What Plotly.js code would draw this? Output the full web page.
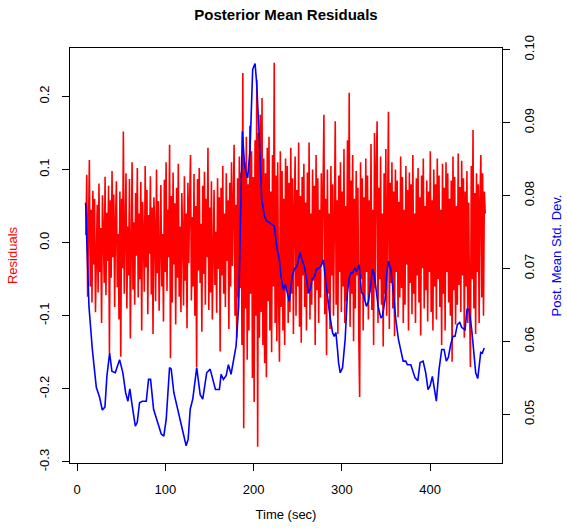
<!DOCTYPE html>
<html>
<head>
<meta charset="utf-8">
<script src="https://cdn.plot.ly/plotly-3.0.1.min.js"></script>
<style>
  html, body { margin: 0; padding: 0; background: #ffffff; }
  #chart { width: 567px; height: 528px; }
</style>
</head>
<body>
<div id="chart"></div>
<script>
// ---- Data ----
const chartTitle = "Posterior Mean Residuals";
const xTitle = "Time (sec)";
const yLeftTitle = "Residuals";
const yRightTitle = "Post. Mean Std. Dev.";

const xTickVals = [0, 100, 200, 300, 400];
const xTickText = ["0", "100", "200", "300", "400"];
const yLeftTickVals = [-0.3, -0.2, -0.1, 0.0, 0.1, 0.2];
const yLeftTickText = ["-0.3", "-0.2", "-0.1", "0.0", "0.1", "0.2"];
const yRightTickVals = [0.05, 0.06, 0.07, 0.08, 0.09, 0.10];
const yRightTickText = ["0.05", "0.06", "0.07", "0.08", "0.09", "0.10"];

// Residuals, evenly sampled from residualStart to residualEnd seconds
const residualStart = 10;
const residualEnd = 462.5;
const residuals = [
  0.010, 0.093, -0.074, 0.088, 0.113, -0.060, 0.045, -0.082, 0.071, -0.030,
  0.060, -0.095, 0.034, 0.052, -0.068, 0.081, -0.040, 0.020, -0.110, 0.065,
  0.015, -0.055, 0.090, -0.072, 0.041, -0.025, 0.078, -0.151, 0.058, -0.048,
  0.098, -0.020, 0.066, -0.088, 0.030, 0.084, -0.061, 0.012, -0.105, 0.070,
  -0.156, 0.060, -0.035, 0.152, -0.070, 0.045, 0.095, -0.090, 0.022, -0.045,
  0.087, -0.131, 0.050, 0.110, -0.064, 0.028, -0.085, 0.068, -0.018, 0.102,
  -0.075, 0.040, -0.050, 0.083, -0.120, 0.056, 0.010, -0.067, 0.105, -0.034,
  0.072, -0.098, 0.038, -0.015, 0.091, -0.071, 0.048, -0.125, 0.062, 0.020,
  -0.080, 0.100, -0.042, 0.057, -0.093, 0.030, 0.079, -0.060, 0.012, -0.108,
  0.086, -0.040, 0.110, -0.066, 0.045, -0.020, 0.134, -0.158, 0.064, -0.082,
  0.096, -0.030, 0.054, -0.112, 0.075, -0.048, 0.108, -0.074, 0.022, -0.095,
  0.068, 0.015, -0.086, 0.091, -0.052, 0.040, -0.117, 0.082, -0.028, 0.058,
  0.120, -0.079, 0.035, -0.060, 0.094, -0.100, 0.050, -0.170, 0.087, -0.038,
  0.102, -0.055, 0.026, -0.122, 0.078, -0.043, 0.097, -0.085, 0.060, -0.020,
  0.130, -0.092, 0.048, -0.068, 0.084, -0.105, 0.030, 0.072, -0.058, 0.015,
  -0.096, 0.088, -0.036, 0.062, -0.149, 0.075, -0.045, 0.105, -0.070, 0.040,
  -0.088, 0.095, -0.025, 0.058, -0.118, 0.082, -0.060, 0.110, -0.032, 0.068,
  0.134, -0.100, 0.052, -0.130, 0.088, -0.075, 0.118, -0.062, 0.096, -0.140,
  0.232, -0.254, 0.110, -0.090, 0.145, -0.160, 0.080, -0.120, 0.160, -0.070,
  0.125, -0.185, 0.090, -0.218, 0.140, -0.100, 0.223, -0.279, 0.150, -0.130,
  0.175, -0.095, 0.198, -0.140, 0.115, -0.165, 0.095, -0.184, 0.130, -0.080,
  0.145, -0.120, 0.070, -0.150, 0.120, -0.060, 0.246, -0.110, 0.092, -0.135,
  0.110, -0.075, -0.163, 0.125, -0.088, 0.098, -0.120, 0.060, -0.140, 0.115,
  -0.065, 0.105, -0.110, 0.082, -0.095, 0.130, -0.070, 0.088, -0.125, 0.050,
  0.118, -0.100, 0.072, -0.060, 0.137, -0.115, 0.064, -0.137, 0.090, -0.045,
  0.108, -0.088, 0.055, -0.120, 0.096, -0.070, 0.137, -0.105, 0.040, -0.085,
  0.100, -0.052, 0.078, -0.140, 0.120, -0.065, 0.088, -0.110, 0.045, -0.075,
  0.095, -0.030, 0.112, 0.175, -0.098, 0.060, -0.154, 0.100, -0.070, 0.040,
  -0.118, 0.105, -0.045, 0.080, -0.100, 0.125, 0.166, -0.085, 0.058, -0.125,
  0.092, -0.040, 0.110, -0.095, 0.070, -0.060, 0.128, -0.110, 0.050, -0.080,
  0.140, -0.060, 0.205, -0.115, 0.085, -0.070, 0.120, -0.135, 0.060, -0.090,
  0.098, -0.045, 0.075, -0.130, -0.211, 0.110, -0.050, 0.088, -0.120, 0.062,
  -0.078, 0.115, -0.040, 0.092, -0.105, 0.058, -0.068, 0.135, -0.092, 0.045,
  -0.140, 0.150, -0.062, 0.102, 0.166, -0.110, 0.075, -0.050, 0.118, -0.085,
  0.040, -0.142, 0.095, -0.070, 0.128, -0.100, 0.060, 0.179, -0.118, 0.082,
  -0.055, 0.110, -0.090, 0.070, -0.128, 0.100, -0.040, 0.085, -0.102, 0.056,
  -0.075, 0.118, -0.062, 0.090, -0.110, 0.045, -0.085, 0.105, -0.030, 0.072,
  -0.120, 0.096, -0.055, 0.080, -0.098, 0.120, -0.070, 0.040, -0.110, 0.088,
  -0.045, 0.102, -0.082, 0.062, -0.127, 0.092, -0.035, 0.115, -0.090, 0.050,
  -0.065, 0.085, -0.108, 0.070, -0.040, 0.125, -0.095, 0.058, -0.120, 0.100,
  -0.060, 0.080, -0.105, 0.115, -0.050, 0.092, -0.088, 0.045, -0.140, 0.108,
  -0.070, 0.075, -0.120, 0.110, -0.040, 0.095, -0.082, 0.060, -0.100, 0.085,
  -0.163, 0.118, -0.065, 0.090, -0.112, 0.050, -0.085, 0.122, -0.058, 0.076,
  -0.095, 0.112, -0.045, 0.088, -0.130, 0.070, -0.060, 0.098, -0.110, 0.055,
  -0.080, -0.170, 0.105, -0.050, 0.154, -0.090, 0.068, -0.125, 0.095, -0.040,
  0.080, -0.110, 0.060, 0.120, -0.075, 0.095, -0.100, 0.070, 0.040
];

// Posterior mean standard deviation (traced)
const sdTime = [
  9.7, 13.5, 17.3, 21.8, 25.6, 28.6, 31.6, 33.8, 36.9, 39.5,
  43.3, 48.2, 51.9, 55.0, 57.6, 59.8, 62.6, 66.0, 68.2, 70.8,
  73.9, 78.4, 81.0, 83.3, 86.7, 91.5, 95.4, 98.3, 101.0, 104.8,
  106.7, 109.6, 114.1, 119.1, 123.6, 125.9, 128.2, 131.1, 135.6, 139.5,
  142.4, 146.9, 150.8, 156.8, 161.3, 163.2, 165.8, 168.9, 171.5, 174.5,
  177.5, 180.2, 183.1, 185.4, 187.3, 189.9, 193.3, 196.0, 199.0, 201.7,
  203.5, 206.6, 209.2, 212.2, 214.8, 217.9, 220.9, 223.5, 226.1, 229.2,
  231.1, 233.7, 236.0, 237.9, 240.5, 243.6, 246.2, 249.2, 252.6, 254.9,
  257.5, 260.1, 262.0, 264.3, 266.2, 268.8, 271.4, 274.4, 276.4, 279.0,
  281.2, 283.8, 286.5, 289.5, 291.4, 293.3, 295.1, 296.3, 298.2, 300.8,
  303.8, 306.4, 308.4, 310.3, 312.1, 314.8, 316.6, 319.7, 322.3, 324.5,
  327.9, 330.2, 332.9, 334.7, 336.7, 338.6, 341.2, 344.2, 346.0, 349.1,
  351.0, 352.8, 355.5, 358.1, 361.2, 364.1, 366.9, 369.5, 372.5, 374.3,
  378.2, 380.8, 383.0, 386.1, 388.7, 392.1, 395.1, 397.7, 400.0, 402.6,
  405.3, 407.1, 410.2, 413.2, 415.8, 418.4, 420.7, 423.4, 426.0, 428.3,
  430.9, 433.6, 435.9, 439.6, 441.9, 444.1, 447.2, 449.8, 451.7, 454.0,
  456.2, 457.4, 459.2, 461.4
];
const sdValue = [
  0.0790, 0.0648, 0.0589, 0.0537, 0.0523, 0.0506, 0.0510, 0.0552, 0.0584, 0.0559,
  0.0557, 0.0575, 0.0557, 0.0530, 0.0518, 0.0535, 0.0511, 0.0484, 0.0489, 0.0516,
  0.0518, 0.0518, 0.0548, 0.0548, 0.0507, 0.0489, 0.0473, 0.0470, 0.0493, 0.0564,
  0.0562, 0.0530, 0.0507, 0.0482, 0.0457, 0.0466, 0.0507, 0.0521, 0.0564, 0.0527,
  0.0521, 0.0557, 0.0562, 0.0534, 0.0534, 0.0555, 0.0548, 0.0553, 0.0568, 0.0555,
  0.0578, 0.0594, 0.0648, 0.0785, 0.0888, 0.0840, 0.0824, 0.0863, 0.0973, 0.0981,
  0.0954, 0.0877, 0.0795, 0.0772, 0.0765, 0.0763, 0.0760, 0.0758, 0.0731, 0.0712,
  0.0689, 0.0671, 0.0678, 0.0667, 0.0655, 0.0689, 0.0699, 0.0703, 0.0722, 0.0712,
  0.0703, 0.0685, 0.0667, 0.0671, 0.0685, 0.0689, 0.0699, 0.0701, 0.0703, 0.0712,
  0.0685, 0.0662, 0.0635, 0.0612, 0.0607, 0.0612, 0.0589, 0.0571, 0.0557, 0.0564,
  0.0603, 0.0667, 0.0687, 0.0694, 0.0694, 0.0701, 0.0696, 0.0705, 0.0667, 0.0664,
  0.0648, 0.0655, 0.0680, 0.0699, 0.0692, 0.0671, 0.0648, 0.0632, 0.0635, 0.0658,
  0.0694, 0.0710, 0.0699, 0.0671, 0.0630, 0.0603, 0.0587, 0.0573, 0.0573, 0.0568,
  0.0568, 0.0559, 0.0550, 0.0546, 0.0571, 0.0573, 0.0557, 0.0534, 0.0539, 0.0552,
  0.0532, 0.0518, 0.0562, 0.0589, 0.0589, 0.0573, 0.0578, 0.0596, 0.0607, 0.0607,
  0.0623, 0.0626, 0.0619, 0.0616, 0.0644, 0.0644, 0.0616, 0.0580, 0.0557, 0.0549,
  0.0575, 0.0585, 0.0584, 0.0591
];

const residualTime = residuals.map((_, i) =>
  residualStart + i * (residualEnd - residualStart) / (residuals.length - 1));

const FONT = "Liberation Sans, Arial, Helvetica, sans-serif";

const traces = [
  {
    x: residualTime, y: residuals, type: "scatter", mode: "lines",
    line: { color: "#ff0000", width: 1.6 }, xaxis: "x", yaxis: "y",
    hoverinfo: "skip", showlegend: false
  },
  {
    x: sdTime, y: sdValue, type: "scatter", mode: "lines",
    line: { color: "#0000ff", width: 1.6, shape: "linear" }, xaxis: "x", yaxis: "y2",
    hoverinfo: "skip", showlegend: false
  }
];

const layout = {
  width: 567, height: 528,
  paper_bgcolor: "#ffffff", plot_bgcolor: "#ffffff",
  margin: { l: 70, r: 65, t: 48, b: 65, pad: 0 },
  font: { family: FONT, size: 13, color: "#000000" },
  showlegend: false,
  title: {
    text: "<b>" + chartTitle + "</b>",
    font: { family: FONT, size: 15, color: "#000000" },
    x: 0.5, xref: "paper", xanchor: "center",
    y: 1 - 15 / 528, yref: "container", yanchor: "middle"
  },
  xaxis: {
    range: [-8, 481.5], autorange: false,
    tickmode: "array", tickvals: xTickVals, ticktext: xTickText,
    ticks: "outside", ticklen: 7, tickwidth: 1, tickcolor: "#000000",
    showline: true, linecolor: "#000000", linewidth: 1, mirror: true,
    showgrid: false, zeroline: false,
    ticklabelstandoff: 7,
    tickfont: { family: FONT, size: 13, color: "#000000" },
    title: { text: xTitle, font: { family: FONT, size: 13, color: "#000000" }, standoff: 14 }
  },
  yaxis: {
    range: [-0.3014, 0.2663], autorange: false,
    tickmode: "array", tickvals: yLeftTickVals, ticktext: yLeftTickText,
    tickangle: -90,
    ticks: "outside", ticklen: 7, tickwidth: 1, tickcolor: "#000000",
    showline: true, linecolor: "#000000", linewidth: 1, mirror: true,
    showgrid: false, zeroline: false,
    ticklabelstandoff: 8,
    tickfont: { family: FONT, size: 13, color: "#000000" },
    title: { text: yLeftTitle, font: { family: FONT, size: 13, color: "#ff0000" }, standoff: 16 }
  },
  yaxis2: {
    overlaying: "y", side: "right",
    range: [0.04333, 0.10023], autorange: false,
    tickmode: "array", tickvals: yRightTickVals, ticktext: yRightTickText,
    tickangle: -90,
    ticks: "outside", ticklen: 7, tickwidth: 1, tickcolor: "#000000",
    showline: false, showgrid: false, zeroline: false,
    ticklabelstandoff: 8,
    tickfont: { family: FONT, size: 13, color: "#000000" },
    title: { text: yRightTitle, font: { family: FONT, size: 13, color: "#0000ff" }, standoff: 16 }
  }
};

Plotly.newPlot("chart", traces, layout, { staticPlot: true, displayModeBar: false });
</script>
</body>
</html>
